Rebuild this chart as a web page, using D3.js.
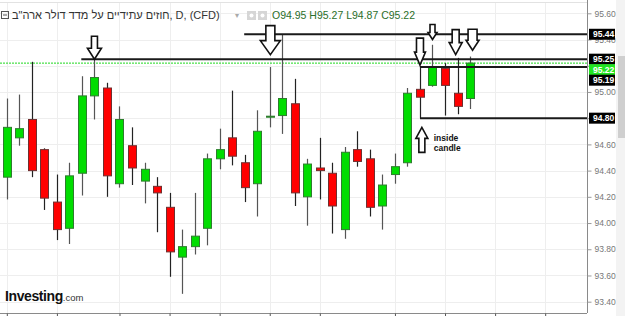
<!DOCTYPE html>
<html><head><meta charset="utf-8">
<script src="https://cdn.jsdelivr.net/npm/d3@7"></script>
<style>html,body{margin:0;padding:0;background:#fff;overflow:hidden}svg{display:block}</style>
</head><body>
<svg id="c" width="625" height="316"></svg>
<script>
// ---- data ----
const titleText = 'חוזים עתידיים על מדד דולר ארה"ב, D, (CFD)';
const ohlcText = "O94.95 H95.27 L94.87 C95.22";
const opens  = [94.35,94.65,94.79,94.56,94.16,93.96,94.38,94.97,95.03,94.30,94.59,94.32,94.28,94.12,93.74,93.82,93.96,94.49,94.65,94.46,94.30,94.81,94.82,94.91,94.20,94.42,94.38,93.95,94.56,94.49,94.13,94.37,94.46,95.02,95.05,95.18,94.99,94.95];
const highs  = [94.95,94.98,95.23,94.57,94.37,94.46,95.12,95.26,95.07,94.89,94.73,94.46,94.35,94.23,93.95,94.23,94.53,94.72,95.01,94.52,94.86,95.19,95.44,95.10,94.49,94.65,94.46,94.58,94.70,94.56,94.37,94.53,95.03,95.19,95.36,95.22,95.26,95.27];
const lows   = [94.18,94.59,94.35,94.10,93.87,93.84,94.21,94.79,94.20,94.27,94.29,94.15,93.93,93.59,93.46,93.76,93.83,94.41,94.44,94.16,94.05,94.73,94.68,94.13,93.98,94.18,93.92,93.88,94.43,94.05,93.95,94.30,94.43,94.80,95.04,94.82,94.83,94.87];
const closes = [94.73,94.72,94.40,94.19,93.95,94.36,94.97,95.11,94.36,94.79,94.42,94.41,94.23,93.78,93.82,93.90,94.49,94.56,94.51,94.27,94.70,94.815,94.95,94.23,94.45,94.40,94.13,94.54,94.47,94.12,94.29,94.43,94.99,94.96,95.19,95.05,94.89,95.22];
const yTicks = [93.40,93.60,93.80,94.00,94.20,94.40,94.60,94.80,95.00,95.20,95.40,95.60];
const xGridIdx = [0,4,9,13,17,21,25,31,35,39,43];
const lastPrice = 95.22;
const levelLines = [{price:95.44, from:18.96},{price:95.25, from:5.95},{price:95.19, from:33},{price:94.80, from:33}];
const arrows = [
  {i:7, tip:95.25, len:23, hw:14, sw:6, hh:11, dir:"down"},
  {i:21.05, tip:95.285, len:29, hw:20, sw:9, hh:14, dir:"down"},
  {i:33, tip:95.205, len:27, hw:11, sw:7, hh:13, dir:"down"},
  {i:34, tip:95.40, len:15, hw:9, sw:5, hh:7, dir:"down"},
  {i:35.85, tip:95.285, len:25, hw:13, sw:7, hh:12, dir:"down"},
  {i:37.2, tip:95.318, len:21, hw:13, sw:9, hh:10, dir:"down"},
  {i:33.15, tip:94.73, len:25, hw:12, sw:6, hh:11, dir:"up"}
];
const noteLines = ["inside","candle"];
const noteAt = {i:34.1, price:94.625};

// ---- scales ----
const svg = d3.select("#c");
const W = 625, H = 316, axisX = 587, axisY = 313;
const x = d3.scaleLinear().domain([-0.544, 46.34]).range([0, axisX]);
const y = d3.scaleLinear().domain([93.40, 95.60]).range([301.7, 13.3]);

// right panel
svg.append("rect").attr("x",616).attr("y",0).attr("width",9).attr("height",H).attr("fill","#f3f3f3");
svg.append("rect").attr("x",618).attr("y",56).attr("width",7).attr("height",82).attr("fill","#cfcfcf");

// grid
const g = svg.append("g");
g.selectAll(".hg").data(yTicks).join("line")
  .attr("x1",0).attr("x2",axisX).attr("y1",d=>Math.round(y(d))+0.5).attr("y2",d=>Math.round(y(d))+0.5)
  .attr("stroke","#eeeeee");
g.selectAll(".vg").data(xGridIdx).join("line")
  .attr("x1",d=>Math.round(x(d))+0.5).attr("x2",d=>Math.round(x(d))+0.5).attr("y1",3).attr("y2",axisY)
  .attr("stroke","#eeeeee");
svg.append("line").attr("x1",0).attr("x2",axisX).attr("y1",2.5).attr("y2",2.5).attr("stroke","#e2e2e2");

// price labels (needed before axis to hide covered ticks)
const labels = [
  {v:95.44, bg:"#000"},{v:95.25, bg:"#000"},{v:95.22, bg:"#22e622"},{v:95.19, bg:"#000"},{v:94.80, bg:"#000"}
];
labels.sort((a,b)=>b.v-a.v);
let prev = -100;
labels.forEach(l=>{ let cy = y(l.v); if (cy < prev+10.5) cy = prev+10.5; l.cy = cy; prev = cy; });

// axes
const yAxis = d3.axisRight(y).tickValues(yTicks).tickFormat(d3.format(".2f")).tickSize(4).tickPadding(3);
const ya = svg.append("g").attr("transform",`translate(${axisX+0.5},0)`).call(yAxis);
ya.select(".domain").attr("stroke","#8a8a8a").attr("d",`M0,0V${axisY}`);
ya.selectAll(".tick line").attr("stroke","#999");
ya.selectAll(".tick text").attr("fill","#777").style("font","8.5px Arial, 'Liberation Sans', sans-serif");
// tick labels fully hidden behind price boxes are not drawn
ya.selectAll(".tick").filter(d=>labels.some(l=>Math.abs(l.cy-y(d))<5)).select("text").remove();

const xa = svg.append("g").attr("transform",`translate(0,${axisY+0.5})`)
  .call(d3.axisBottom(x).tickValues(xGridIdx).tickSize(4).tickFormat(""));
xa.select(".domain").attr("stroke","#8a8a8a").attr("d",`M0,0H${axisX}`);
xa.selectAll(".tick line").attr("stroke","#555");

// green dotted last price line
svg.append("line").attr("x1",0).attr("x2",axisX).attr("y1",y(lastPrice)).attr("y2",y(lastPrice))
  .attr("stroke","#1ed81e").attr("stroke-dasharray","2,1").attr("stroke-width",1);

// candles
const idx = d3.range(opens.length);
const cg = svg.append("g");
cg.selectAll(".wick").data(idx).join("line")
  .attr("x1",i=>Math.round(x(i))+0.5).attr("x2",i=>Math.round(x(i))+0.5)
  .attr("y1",i=>y(highs[i])).attr("y2",i=>y(lows[i]))
  .attr("stroke",i=>closes[i]>=opens[i]?"#555":"#222").attr("stroke-width",1.2);
const bw = 8;
cg.selectAll(".body").data(idx).join("rect")
  .attr("x",i=>Math.round(x(i))-bw/2+0.5)
  .attr("y",i=>y(Math.max(opens[i],closes[i])))
  .attr("width",bw)
  .attr("height",i=>Math.max(1,Math.abs(y(opens[i])-y(closes[i]))))
  .attr("fill",i=>closes[i]>=opens[i]?"#00dd00":"#ff0000")
  .attr("stroke",i=>closes[i]>=opens[i]?"#2e7d2e":"#6e3030").attr("stroke-width",1);

// level lines
svg.selectAll(".lvl").data(levelLines).join("line")
  .attr("x1",d=>x(d.from)).attr("x2",axisX).attr("y1",d=>y(d.price)).attr("y2",d=>y(d.price))
  .attr("stroke","#1a1a1a").attr("stroke-width",2);

// arrows
function arrowPath(d){
  const cx = x(d.i), t = y(d.tip), s = d.dir==="down"?-1:1;
  const tail = t + s*d.len, hb = t + s*d.hh;
  return `M${cx-d.sw/2},${tail}L${cx+d.sw/2},${tail}L${cx+d.sw/2},${hb}L${cx+d.hw/2},${hb}L${cx},${t}L${cx-d.hw/2},${hb}L${cx-d.sw/2},${hb}Z`;
}
svg.selectAll(".arr").data(arrows).join("path").attr("d",arrowPath)
  .attr("fill","#fff").attr("stroke","#111").attr("stroke-width",1.6).attr("stroke-linejoin","miter");

// note
svg.append("text").attr("x",x(noteAt.i)).attr("y",y(noteAt.price))
  .style("font","bold 8.5px Arial, 'Liberation Sans', sans-serif").attr("fill","#111")
  .selectAll("tspan").data(noteLines).join("tspan")
  .attr("x",x(noteAt.i)).attr("dy",(d,k)=>k?9.5:0).text(d=>d);

// price label boxes
const lg = svg.selectAll(".pl").data(labels).join("g").attr("transform",d=>`translate(${axisX+2},${d.cy})`);
lg.append("rect").attr("x",0).attr("y",-5.5).attr("width",26).attr("height",11).attr("fill",d=>d.bg);
lg.append("text").attr("x",4).attr("y",3.2).attr("fill","#fff")
  .style("font","bold 8.5px Arial, 'Liberation Sans', sans-serif").text(d=>d3.format(".2f")(d.v));

// header
const hf = "Arial, 'Liberation Sans', sans-serif";
const hg = svg.append("g");
hg.append("rect").attr("x",1.5).attr("y",11.5).attr("width",7).attr("height",7).attr("fill","none").attr("stroke","#555");
hg.append("line").attr("x1",3).attr("x2",7).attr("y1",15).attr("y2",15).attr("stroke","#555");
hg.append("text").attr("x",12).attr("y",19).attr("fill","#333").style("font",`11px ${hf}`).text(titleText);
hg.append("text").attr("x",235).attr("y",18).attr("fill","#aaa").style("font",`8px ${hf}`).text("▾");
hg.append("rect").attr("x",247).attr("y",11).attr("width",9).attr("height",9).attr("fill","#d6d6d6");
hg.append("rect").attr("x",258).attr("y",11).attr("width",9).attr("height",9).attr("fill","#d6d6d6");
hg.append("circle").attr("cx",251.5).attr("cy",15.5).attr("r",2).attr("fill","#fff");
hg.append("circle").attr("cx",262.5).attr("cy",15.5).attr("r",2).attr("fill","#fff");
hg.append("text").attr("x",272).attr("y",19).attr("fill","#2a6e2a").style("font",`10.5px ${hf}`).text(ohlcText);

// logo
const logo = svg.append("text").attr("x",5).attr("y",301);
logo.append("tspan").style("font",`bold 14px ${hf}`).attr("fill","#111").attr("letter-spacing","-0.4").text("Investing");
logo.append("tspan").style("font",`9.5px ${hf}`).attr("fill","#333").text(".com");
</script>
</body></html>
